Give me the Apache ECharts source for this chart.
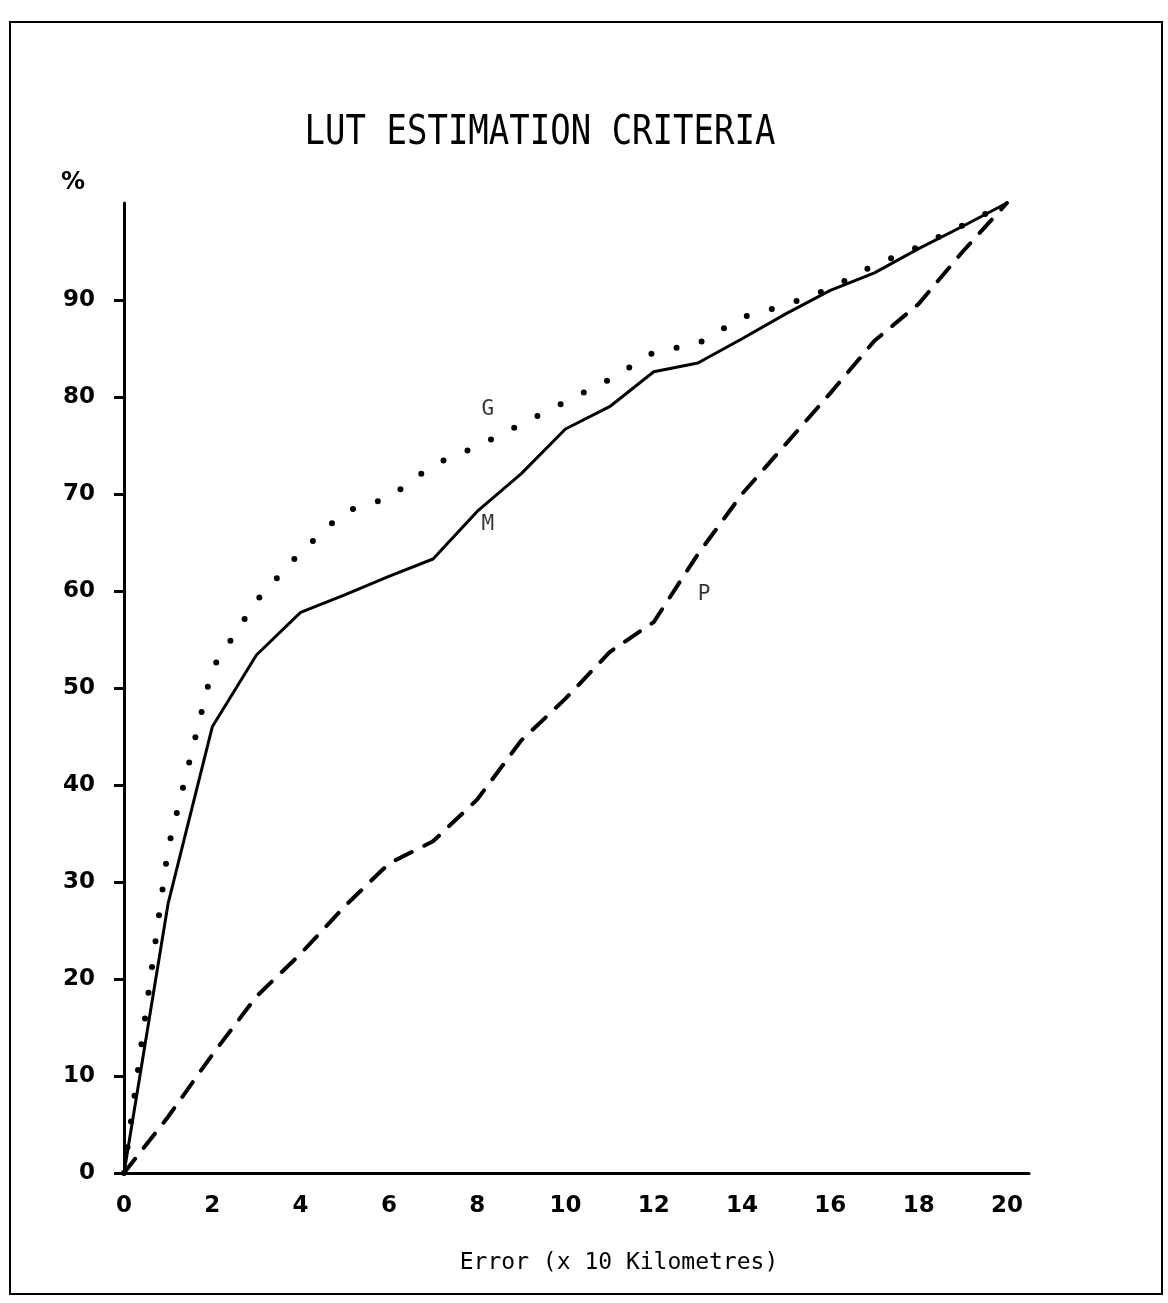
<!DOCTYPE html>
<html>
<head>
<meta charset="utf-8">
<script src="https://cdn.jsdelivr.net/npm/echarts@6/dist/echarts.min.js"></script>
<style>
  html, body { margin: 0; padding: 0; background: #fff; }
  #chart { width: 1168px; height: 1303px; }
</style>
</head>
<body>
<div id="chart"></div>
<script>
// ---- data ----
const errorKm = [0, 1, 2, 3, 4, 5, 6, 7, 8, 9, 10, 11, 12, 13, 14, 15, 16, 17, 18, 19, 20];
const seriesG = [0, 33.5, 52, 59, 64, 68.2, 69.6, 73, 74.9, 77.2, 79.5, 81.8, 84.6, 85.5, 88.2, 89.5, 91.2, 93.6, 95.5, 97.7, 100];
const seriesM = [0, 27.8, 46.0, 53.4, 57.8, 59.6, 61.5, 63.3, 68.2, 72.1, 76.7, 79.0, 82.6, 83.5, 86.0, 88.6, 91.0, 92.8, 95.3, 97.6, 100];
const seriesP = [0, 5.8, 12.2, 18.2, 22.6, 27.5, 31.9, 34.2, 38.5, 44.6, 48.9, 53.7, 56.8, 63.8, 70.0, 75.2, 80.4, 85.8, 89.6, 95.0, 100];
const xTickLabels = [0, 2, 4, 6, 8, 10, 12, 14, 16, 18, 20];
const yTickLabels = [0, 10, 20, 30, 40, 50, 60, 70, 80, 90];
const curveNames = ['G', 'M', 'P'];
const curveLabelX = [8.24, 8.24, 13.14];
const curveLabelY = [78.7, 66.8, 59.6];
const titleText = 'LUT ESTIMATION CRITERIA';
const xAxisTitle = 'Error (x 10 Kilometres)';
const yAxisTitle = '%';

const pairs = (ys) => errorKm.map((x, i) => [x, ys[i]]);

const chart = echarts.init(document.getElementById('chart'), null, { renderer: 'canvas' });

const option = {
  animation: false,
  backgroundColor: '#ffffff',
  grid: { left: 124, right: 139, top: 203, bottom: 130 },
  xAxis: {
    type: 'value',
    min: 0,
    max: 20.5,
    interval: 2,
    splitLine: { show: false },
    axisLine: { show: true, onZero: false, lineStyle: { color: '#000', width: 3 } },
    axisTick: { show: false },
    axisLabel: {
      customValues: xTickLabels,
      margin: 22,
      color: '#000',
      fontFamily: 'DejaVu Sans',
      fontWeight: 'bold',
      fontSize: 23
    }
  },
  yAxis: {
    type: 'value',
    min: 0,
    max: 100,
    interval: 10,
    splitLine: { show: false },
    axisLine: { show: true, onZero: false, lineStyle: { color: '#000', width: 3 } },
    axisTick: { show: true, customValues: yTickLabels, length: 10, inside: false, lineStyle: { color: '#000', width: 3 } },
    axisLabel: {
      customValues: yTickLabels,
      margin: 29,
      color: '#000',
      fontFamily: 'DejaVu Sans',
      fontWeight: 'bold',
      fontSize: 23
    }
  },
  series: [
    {
      name: 'G',
      type: 'line',
      data: pairs(seriesG),
      symbol: 'none',
      lineStyle: { color: '#000', width: 6, type: [0, 26], cap: 'round' }
    },
    {
      name: 'M',
      type: 'line',
      data: pairs(seriesM),
      symbol: 'none',
      lineStyle: { color: '#000', width: 3 }
    },
    {
      name: 'P',
      type: 'line',
      data: pairs(seriesP),
      symbol: 'none',
      lineStyle: { color: '#000', width: 4, type: [18, 14], cap: 'round' }
    },
    {
      name: 'labels',
      type: 'scatter',
      symbolSize: 0,
      data: curveNames.map((n, i) => ({ value: [curveLabelX[i], curveLabelY[i]], name: n })),
      label: {
        show: true,
        position: 'inside',
        formatter: (p) => p.name,
        color: '#000',
        fontFamily: 'DejaVu Sans Mono',
        fontSize: 21
      },
      silent: true
    }
  ],
  graphic: [
    {
      type: 'rect',
      shape: { x: 10, y: 22, width: 1152, height: 1272 },
      style: { fill: 'none', stroke: '#000', lineWidth: 2 },
      silent: true
    },
    {
      type: 'text',
      x: 540, y: 133,
      scaleY: 1.2,
      style: {
        text: titleText,
        fill: '#000',
        font: '34px "DejaVu Sans Mono"',
        textAlign: 'center',
        textVerticalAlign: 'middle'
      }
    },
    {
      type: 'text',
      x: 73, y: 183,
      style: {
        text: yAxisTitle,
        fill: '#000',
        font: 'bold 24px "DejaVu Sans"',
        textAlign: 'center',
        textVerticalAlign: 'middle'
      }
    },
    {
      type: 'text',
      x: 619, y: 1263,
      style: {
        text: xAxisTitle,
        fill: '#000',
        font: '23px "DejaVu Sans Mono"',
        textAlign: 'center',
        textVerticalAlign: 'middle'
      }
    }
  ]
};

chart.setOption(option);
</script>
</body>
</html>
